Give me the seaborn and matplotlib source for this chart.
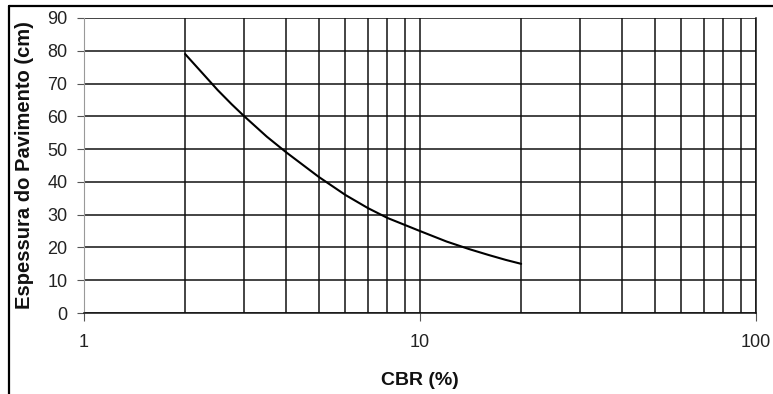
import matplotlib.pyplot as plt
import matplotlib.ticker as mticker
import pandas as pd
import seaborn as sns
from matplotlib.lines import Line2D

# values
cbr = [2, 2.25, 2.5, 2.75, 3, 3.5, 4, 5, 6, 7, 8, 10, 12, 14, 16, 18, 20]
espessura = [79, 73.2, 68, 63.7, 60, 53.8, 49, 41.5, 36, 32, 29, 25, 21.8, 19.5, 17.7, 16.2, 15]

y_ticks = list(range(0, 91, 10))
x_label = "CBR (%)"
y_label = "Espessura do Pavimento (cm)"


def main():
    sns.set_style("white")
    plt.rcParams["font.family"] = ["Liberation Sans", "DejaVu Sans"]

    df = pd.DataFrame({"CBR": cbr, "Espessura": espessura})

    fig = plt.figure(figsize=(7.73, 3.94), dpi=100)
    ax = fig.add_axes([84 / 773, 1 - 313 / 394, (756 - 84) / 773, (313 - 18) / 394])
    ax.set_xscale("log")
    sns.lineplot(data=df, x="CBR", y="Espessura", color="black", linewidth=1.5, ax=ax)

    ax.set_xlim(1, 100)
    ax.set_ylim(0, 90)
    ax.set_yticks(y_ticks)
    ax.xaxis.set_major_locator(mticker.LogLocator(base=10))
    ax.xaxis.set_minor_locator(mticker.LogLocator(base=10, subs=range(2, 10)))
    ax.xaxis.set_major_formatter(mticker.FuncFormatter(lambda v, p: f"{v:g}"))
    ax.xaxis.set_minor_formatter(mticker.NullFormatter())

    ax.grid(True, which="both", axis="x", color="#111111", linewidth=1.1)
    ax.grid(True, which="major", axis="y", color="#111111", linewidth=1.1)
    ax.set_axisbelow(True)

    ax.spines["top"].set_visible(False)
    ax.spines["right"].set_color("#111111")
    ax.spines["right"].set_linewidth(1.1)
    ax.spines["left"].set_color("#999999")
    ax.spines["left"].set_linewidth(0.8)
    ax.spines["bottom"].set_color("#111111")
    ax.spines["bottom"].set_linewidth(1.1)

    ax.tick_params(axis="y", which="major", length=5, width=0.8, color="#555555",
                   left=True, pad=7, labelsize=13, labelcolor="#222222")
    ax.tick_params(axis="x", which="major", length=6, width=0.8, color="#555555",
                   bottom=True, pad=9, labelsize=13, labelcolor="#222222")
    ax.tick_params(axis="x", which="minor", length=0)

    ax.set_xlabel(x_label, fontsize=14, fontweight="bold", color="#111111")
    ax.set_ylabel(y_label, fontsize=14.5, fontweight="bold", color="#111111")
    ax.xaxis.set_label_coords(0.5, -0.2)
    ax.yaxis.set_label_coords(-0.075, 0.5)

    # frame of the cropped figure
    fig.add_artist(Line2D([8.5 / 773, 8.5 / 773], [0, 1 - 6 / 394], color="black", linewidth=1.6))
    fig.add_artist(Line2D([8.5 / 773, 1], [1 - 6 / 394, 1 - 6 / 394], color="black", linewidth=1.6))

    fig.savefig("out.png", dpi=100)


if __name__ == "__main__":
    main()
